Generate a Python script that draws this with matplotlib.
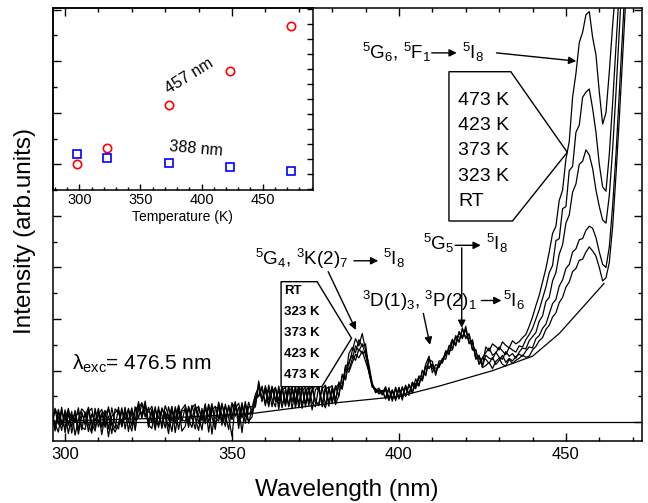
import numpy as np
import matplotlib
matplotlib.use("Agg")
import matplotlib.pyplot as plt
from matplotlib.patches import Polygon
from matplotlib.ticker import MultipleLocator

plt.rcParams["font.family"] = ["Liberation Sans", "DejaVu Sans"]
plt.rcParams["mathtext.default"] = "regular"

# emission spectra, 1 nm steps from 296 to 469 nm
wl = np.arange(296, 470)

rt = [0.22, -0.12, 0.25, -0.05, 0.18, -0.22, 0.14, 0.00, 0.28, -0.15,
      0.20, -0.18, 0.16, 0.02, 0.27, -0.10, 0.21, -0.28, 0.12, 0.19,
      0.24, -0.08, 0.19, 0.03, -0.17, 0.22, 0.34, 0.12, 0.36, 0.00,
      0.25, -0.06, 0.30, -0.12, 0.20, 0.04, 0.31, -0.20, 0.23, 0.02,
      0.29, -0.02, 0.33, 0.08, -0.16, 0.27, -0.03, 0.35, 0.10, -0.14,
      0.36, 0.01, 0.31, 0.09, -0.27, 0.34, 0.06, 0.38, -0.02, 0.30,
      0.30, 0.34, 0.80, 0.42, 0.66, 0.34, 0.70, 0.40, 0.63, 0.28,
      0.63, 0.32, 0.70, 0.28, 0.60, 0.68, 0.36, 0.66, 0.24, 0.64,
      0.66, 0.35, 0.70, 0.31, 0.64, 0.40, 0.78, 0.66, 1.10, 1.12,
      1.38, 1.62, 1.48, 1.72, 1.40, 1.12, 0.75, 0.62, 0.66, 0.55,
      0.66, 0.44, 0.63, 0.42, 0.68, 0.47, 0.72, 0.52, 0.76, 0.71,
      0.90, 0.82, 1.12, 1.28, 0.96, 1.12, 1.08, 1.22, 1.30, 1.44,
      1.61, 1.48, 1.76, 1.62, 1.86, 1.52, 1.60, 1.22, 1.28, 1.06,
      1.10, 1.16, 1.04, 1.18, 1.24, 1.12, 1.09, 1.22, 1.14, 1.20,
      1.24, 1.30, 1.26, 1.28, 1.40, 1.47, 1.58, 1.64, 1.80, 1.88,
      2.04, 2.12, 2.32, 2.42, 2.62, 2.72, 2.92, 2.98, 3.14, 3.16,
      3.30, 3.40, 3.32, 3.22, 3.00, 2.74, 2.80, 3.10, 3.80, 4.80,
      5.90, 7.10, 8.30, 9.50]

k323 = [-0.12, 0.24, -0.04, 0.29, -0.20, 0.16, -0.09, 0.23, -0.14, 0.20,
        -0.05, 0.26, -0.15, 0.22, 0.00, 0.18, -0.10, 0.30, -0.06, -0.19,
        -0.03, 0.28, -0.13, 0.22, 0.14, -0.11, 0.26, 0.38, 0.10, 0.29,
        0.00, 0.30, -0.10, 0.25, 0.12, -0.22, 0.28, -0.02, 0.33, 0.05,
        0.02, 0.31, 0.10, -0.13, 0.29, 0.05, 0.36, -0.19, 0.24, 0.31,
        0.06, 0.37, 0.02, 0.30, 0.11, 0.40, -0.12, 0.33, 0.14, 0.03,
        0.10, 0.50, 0.52, 0.70, 0.36, 0.65, 0.30, 0.68, 0.42, 0.71,
        0.34, 0.66, 0.40, 0.71, 0.28, 0.60, 0.69, 0.32, 0.65, 0.37,
        0.37, 0.68, 0.33, 0.65, 0.42, 0.71, 0.50, 0.93, 0.84, 1.33,
        1.45, 1.35, 1.60, 1.47, 1.52, 1.02, 0.70, 0.65, 0.58, 0.62,
        0.45, 0.67, 0.41, 0.65, 0.45, 0.69, 0.50, 0.74, 0.57, 0.75,
        0.70, 1.01, 0.90, 1.21, 1.18, 0.91, 1.19, 1.19, 1.33, 1.39,
        1.40, 1.68, 1.55, 1.83, 1.62, 1.72, 1.40, 1.41, 1.12, 1.24,
        1.22, 1.14, 1.26, 1.12, 1.20, 1.30, 1.16, 1.24, 1.19, 1.27,
        1.32, 1.28, 1.38, 1.46, 1.44, 1.62, 1.68, 1.82, 1.90, 2.10,
        2.30, 2.38, 2.64, 2.76, 2.98, 3.06, 3.30, 3.36, 3.54, 3.56,
        3.72, 3.80, 3.76, 3.58, 3.30, 3.06, 3.00, 3.40, 4.20, 5.20,
        6.40, 7.60, 8.80, 10.0]

k373 = [0.18, -0.03, -0.19, 0.22, 0.04, 0.27, -0.21, 0.10, 0.19, -0.10,
        -0.14, 0.20, 0.27, -0.11, 0.15, 0.25, -0.03, 0.12, -0.22, 0.26,
        0.19, -0.02, 0.29, -0.18, 0.25, 0.03, 0.40, 0.08, 0.33, -0.10,
        0.21, -0.15, 0.24, 0.14, -0.11, 0.30, 0.02, 0.27, -0.14, 0.22,
        0.24, -0.10, 0.28, 0.35, -0.02, 0.22, 0.04, 0.32, -0.23, 0.27,
        0.30, -0.06, 0.35, 0.08, 0.38, 0.12, 0.29, -0.20, 0.34, 0.15,
        0.24, 0.30, 0.72, 0.40, 0.71, 0.44, 0.58, 0.67, 0.26, 0.62,
        0.68, 0.30, 0.63, 0.42, 0.72, 0.33, 0.58, 0.70, 0.38, 0.30,
        0.71, 0.30, 0.63, 0.69, 0.36, 0.67, 0.74, 0.68, 1.08, 1.02,
        1.22, 1.48, 1.38, 1.52, 1.30, 1.05, 0.74, 0.57, 0.63, 0.56,
        0.69, 0.47, 0.62, 0.46, 0.64, 0.43, 0.70, 0.54, 0.78, 0.69,
        0.88, 0.80, 1.10, 1.04, 1.11, 0.98, 1.12, 1.16, 1.39, 1.31,
        1.58, 1.50, 1.74, 1.64, 1.81, 1.54, 1.58, 1.24, 1.30, 1.08,
        1.30, 1.24, 1.22, 1.36, 1.26, 1.22, 1.37, 1.28, 1.33, 1.24,
        1.36, 1.44, 1.42, 1.58, 1.66, 1.74, 1.96, 2.06, 2.34, 2.42,
        2.74, 2.90, 3.26, 3.44, 3.86, 4.02, 4.46, 4.62, 5.00, 5.06,
        5.28, 5.18, 4.92, 4.50, 4.18, 3.92, 3.86, 4.40, 5.30, 6.40,
        7.60, 8.80, 10.0, 11.2]

k423 = [-0.02, 0.27, 0.10, -0.16, 0.24, -0.06, 0.21, -0.25, 0.06, 0.26,
        0.18, -0.04, -0.21, 0.27, -0.09, 0.13, 0.23, -0.13, 0.28, -0.02,
        -0.13, 0.23, 0.06, 0.27, -0.07, 0.30, 0.08, 0.36, 0.16, 0.20,
        0.31, 0.03, -0.06, 0.28, 0.14, -0.09, 0.25, 0.06, 0.30, -0.17,
        -0.08, 0.27, 0.07, 0.31, 0.13, -0.15, 0.33, 0.00, 0.29, 0.09,
        0.02, 0.33, 0.15, -0.14, 0.30, 0.37, 0.00, 0.31, 0.10, 0.39,
        0.16, 0.46, 0.50, 0.66, 0.32, 0.72, 0.45, 0.30, 0.70, 0.38,
        0.40, 0.71, 0.26, 0.65, 0.37, 0.67, 0.30, 0.62, 0.69, 0.42,
        0.32, 0.65, 0.72, 0.38, 0.68, 0.34, 0.52, 0.90, 0.82, 1.16,
        1.30, 1.20, 1.42, 1.33, 1.38, 0.96, 0.68, 0.64, 0.55, 0.60,
        0.48, 0.64, 0.44, 0.68, 0.48, 0.66, 0.52, 0.72, 0.58, 0.84,
        0.72, 0.99, 0.92, 1.24, 1.04, 1.05, 1.06, 1.24, 1.22, 1.49,
        1.42, 1.66, 1.57, 1.80, 1.64, 1.70, 1.42, 1.40, 1.14, 1.25,
        1.35, 1.44, 1.30, 1.34, 1.46, 1.38, 1.31, 1.45, 1.40, 1.36,
        1.48, 1.46, 1.60, 1.70, 1.82, 2.00, 2.18, 2.40, 2.62, 2.90,
        3.04, 3.52, 3.56, 4.14, 4.18, 4.88, 4.96, 5.62, 5.76, 6.30,
        6.40, 6.46, 6.08, 5.62, 5.00, 4.56, 4.48, 5.20, 6.20, 7.30,
        8.40, 9.40, 10.4, 11.4]

k473 = [0.26, -0.17, 0.19, 0.02, -0.11, 0.23, 0.05, 0.17, -0.23, 0.12,
        0.10, 0.29, -0.02, -0.17, 0.21, -0.24, 0.15, 0.26, 0.01, -0.12,
        0.29, -0.09, 0.22, 0.04, 0.28, -0.16, 0.32, 0.15, 0.41, -0.05,
        -0.12, 0.24, 0.11, -0.04, 0.32, 0.13, -0.18, 0.30, 0.05, 0.25,
        0.34, 0.04, -0.10, 0.24, 0.31, 0.03, 0.26, 0.11, 0.36, -0.08,
        0.39, 0.13, -0.08, 0.33, 0.05, 0.27, 0.37, 0.08, 0.40, -0.02,
        0.28, 0.54, 0.68, 0.45, 0.62, 0.30, 0.68, 0.46, 0.36, 0.66,
        0.31, 0.60, 0.67, 0.36, 0.69, 0.27, 0.65, 0.39, 0.61, 0.72,
        0.62, 0.39, 0.28, 0.66, 0.71, 0.44, 0.72, 0.64, 1.04, 0.97,
        1.15, 1.32, 1.25, 1.38, 1.18, 0.98, 0.72, 0.60, 0.61, 0.53,
        0.63, 0.42, 0.60, 0.45, 0.66, 0.50, 0.68, 0.55, 0.73, 0.65,
        0.86, 0.84, 1.08, 1.07, 1.12, 0.95, 1.15, 1.15, 1.37, 1.34,
        1.56, 1.52, 1.72, 1.66, 1.79, 1.56, 1.56, 1.26, 1.27, 1.10,
        1.46, 1.38, 1.52, 1.47, 1.40, 1.56, 1.49, 1.44, 1.58, 1.52,
        1.56, 1.64, 1.70, 1.86, 2.04, 2.26, 2.46, 2.72, 2.98, 3.30,
        3.66, 3.80, 4.30, 4.50, 5.10, 5.44, 6.30, 6.76, 7.36, 7.56,
        7.90, 7.96, 7.46, 7.12, 6.40, 5.78, 6.00, 6.80, 7.70, 8.50,
        9.30, 10.1, 10.9, 11.7]

# background curve under the spectra
bg_wl = [296.3, 330, 356, 380, 400, 412, 428, 440, 448, 461.4]
bg_y = [0.02, 0.08, 0.17, 0.37, 0.50, 0.70, 1.00, 1.28, 1.72, 2.69]

# inset: integrated intensity vs temperature
temp = [298, 323, 373, 423, 473]
i457 = [1.69, 2.73, 5.62, 7.91, 10.91]
i388 = [2.33, 2.09, 1.77, 1.51, 1.22]

labels_hi = ["473 K", "423 K", "373 K", "323 K", "RT"]
labels_lo = ["RT", "323 K", "373 K", "423 K", "473 K"]

fig = plt.figure(figsize=(6.48, 5.03), dpi=100)
ax = fig.add_axes([0.0813, 0.1239, 0.9090, 0.8602])

for s in (rt, k323, k373, k423, k473):
    ax.plot(wl, s, color="black", lw=0.9)
ax.plot(bg_wl, bg_y, color="black", lw=0.9)
ax.axhline(0, color="black", lw=0.9)

ax.set_xlim(296.3, 472.7)
ax.set_ylim(-0.357, 8.03)
ax.xaxis.set_major_locator(MultipleLocator(50))
ax.xaxis.set_minor_locator(MultipleLocator(10))
ax.yaxis.set_major_locator(MultipleLocator(1))
ax.yaxis.set_minor_locator(MultipleLocator(0.5))
ax.tick_params(which="both", direction="in", top=True, right=True, width=1)
ax.tick_params(which="major", length=6, labelsize=12, pad=4.5)
ax.tick_params(which="minor", length=3)
ax.tick_params(axis="y", labelleft=False)
for sp in ax.spines.values():
    sp.set_linewidth(1.1)

ax.set_xlabel("Wavelength (nm)", fontsize=17.5, va="center")
ax.xaxis.set_label_coords(0.5, -0.114)
ax.set_ylabel("Intensity (arb.units)", fontsize=17.5, va="center")
ax.yaxis.set_label_coords(-0.047, 0.485)

arrow = dict(arrowstyle="-|>", color="black", lw=1, mutation_scale=11,
             shrinkA=0, shrinkB=0)
big = 13.5

# 5G6, 5F1 -> 5I8
ax.text(388.8, 7.05, "$^5$G$_6$, $^5$F$_1$", fontsize=big)
ax.annotate("", xy=(417.3, 7.16), xytext=(409.8, 7.16), arrowprops=arrow)
ax.text(418.8, 7.05, "$^5$I$_8$", fontsize=big)
ax.annotate("", xy=(453.1, 7.0), xytext=(429.2, 7.16), arrowprops=arrow)

# 5G4, 3K(2)7 -> 5I8
ax.text(356.9, 3.05, "$^5$G$_4$, $^3$K(2)$_7$", fontsize=big)
ax.annotate("", xy=(393.8, 3.13), xytext=(386.5, 3.13), arrowprops=arrow)
ax.text(395.3, 3.05, "$^5$I$_8$", fontsize=big)
ax.annotate("", xy=(387.1, 1.79), xytext=(378.8, 2.92), arrowprops=arrow)

# 5G5 -> 5I8
ax.text(407.3, 3.34, "$^5$G$_5$", fontsize=big)
ax.annotate("", xy=(424.5, 3.43), xytext=(416.8, 3.43), arrowprops=arrow)
ax.text(426.2, 3.34, "$^5$I$_8$", fontsize=big)
ax.annotate("", xy=(418.8, 1.83), xytext=(418.8, 3.38), arrowprops=arrow)

# 3D(1)3, 3P(2)1 -> 5I6
ax.text(388.8, 2.24, "$^3$D(1)$_3$, $^3$P(2)$_1$", fontsize=big)
ax.annotate("", xy=(430.7, 2.36), xytext=(424.7, 2.36), arrowprops=arrow)
ax.text(431.2, 2.24, "$^5$I$_6$", fontsize=big)
ax.annotate("", xy=(409.3, 1.50), xytext=(407.3, 2.11), arrowprops=arrow)

ax.text(302.2, 1.01, "λ$_{exc}$= 476.5 nm", fontsize=15)

# pentagon label boxes
box_hi = Polygon([(414.97, 6.795), (433.5, 6.795), (450.4, 5.233),
                  (434.0, 3.901), (414.97, 3.901)],
                 closed=True, fc="white", ec="black", lw=1, zorder=3)
ax.add_patch(box_hi)
for i, t in enumerate(labels_hi):
    ax.text(417.7, 6.246 - i * 0.492, t, fontsize=14, va="center", zorder=4)

box_lo = Polygon([(364.7, 2.725), (375.5, 2.725), (385.8, 1.628),
                  (376.9, 0.69), (364.7, 0.69)],
                 closed=True, fc="white", ec="black", lw=1, zorder=3)
ax.add_patch(box_lo)
for i, t in enumerate(labels_lo):
    ax.text(365.7, 2.545 - i * 0.407, t, fontsize=9.5, fontweight="bold",
            va="center", zorder=4)

# inset
axi = fig.add_axes([0.0813, 0.6223, 0.4012, 0.3618], facecolor="none")
axi.plot(temp, i457, "o", mfc="none", mec="red", ms=6, mew=1.2)
axi.plot(temp, i388, "s", mfc="none", mec="blue", ms=5.5, mew=1.2)
axi.set_xlim(278.2, 490.9)
axi.set_ylim(-0.05, 12.09)
axi.xaxis.set_major_locator(MultipleLocator(50))
axi.xaxis.set_minor_locator(MultipleLocator(10))
axi.yaxis.set_major_locator(MultipleLocator(1))
axi.tick_params(which="both", direction="in", top=False, left=False,
                right=True, width=1)
axi.tick_params(which="major", length=4, labelsize=10.5, pad=2)
axi.tick_params(which="minor", length=2)
axi.tick_params(axis="y", labelleft=False)
for sp in axi.spines.values():
    sp.set_linewidth(1.1)
axi.set_xlabel("Temperature (K)", fontsize=10, va="center")
axi.xaxis.set_label_coords(0.5, -0.148)
axi.text(389.7, 7.55, "457 nm", fontsize=11.5, rotation=32,
         ha="center", va="center")
axi.text(395.2, 2.69, "388 nm", fontsize=11.5, rotation=-5,
         ha="center", va="center")

fig.savefig("out.png", dpi=100)
